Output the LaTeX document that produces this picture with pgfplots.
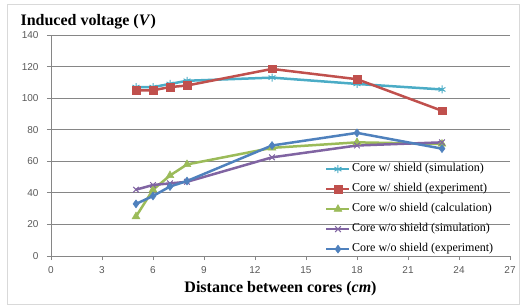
\documentclass[border=0pt]{standalone}
\usepackage{fontspec}
\setmainfont{Liberation Serif}
\newfontfamily\arial{Liberation Sans}
\usepackage{pgfplots}
\pgfplotsset{compat=1.18}
\definecolor{cCyan}{HTML}{4BACC6}
\definecolor{cRed}{HTML}{C0504D}
\definecolor{cGreen}{HTML}{9BBB59}
\definecolor{cPurple}{HTML}{8064A2}
\definecolor{cBlue}{HTML}{4F81BD}
\definecolor{cGrid}{HTML}{868686}
\definecolor{cTick}{HTML}{595959}
\definecolor{cBorder}{HTML}{D9D9D9}
\begin{document}
\begin{tikzpicture}[x=1pt,y=1pt]
\path[use as bounding box] (0,0) rectangle (520,306);
\draw[cBorder, line width=0.8pt] (7,2) rectangle (519,301.5);
\begin{axis}[
  at={(51pt,50pt)}, anchor=south west,
  width=459pt, height=221pt, scale only axis,
  xmin=0, xmax=27, ymin=0, ymax=140,
  xtick={0,3,...,27}, ytick={0,20,...,140},
  axis x line*=bottom, axis y line*=left,
  axis line style={cGrid, line width=0.8pt, -},
  ymajorgrids, grid style={cGrid, line width=0.8pt},
  tick align=outside, major tick length=4pt,
  tick style={cGrid, line width=0.8pt},
  ticklabel style={font=\arial\fontsize{10}{12}\selectfont, text=cTick},
  /pgf/number format/assume math mode=true,
  yticklabel style={xshift=-5pt},
  xticklabel style={yshift=-3pt},
  xlabel={\bfseries Distance between cores (\textit{cm})},
  xlabel style={font=\fontsize{16}{18}\selectfont, at={(axis description cs:0.5,-0.167)}, anchor=base},
  ylabel={\bfseries Induced voltage (\textit{V})},
  ylabel style={font=\fontsize{16}{18}\selectfont, rotate=-90, at={(axis description cs:-0.074,1.045)}, anchor=base west},
  legend cell align=left,
  legend style={at={(axis description cs:0.597,0.42)}, anchor=north west, draw=none, fill=none,
    font=\fontsize{12}{14}\selectfont, inner sep=0pt, row sep=8.5pt,
    nodes={inner xsep=1.5pt, inner ysep=0pt, text height=8.5pt, text depth=3pt}},
  legend image code/.code={\draw[mark repeat=2,mark phase=2,#1] plot coordinates {(0pt,0pt) (11.5pt,0pt) (23pt,0pt)};},
  every axis plot/.append style={line width=2.5pt},
]
\addplot[cCyan, mark=asterisk, mark size=4pt, mark options={line width=1pt}] coordinates {(5,107) (6,107) (7,109) (8,111) (13,113) (18,109) (23,105.5)};
\addlegendentry{Core w/ shield (simulation)}
\addplot[cRed, mark=square*, mark size=3.8pt, mark options={line width=0.5pt}] coordinates {(5,105) (6,105) (7,107) (8,108) (13,118.5) (18,112) (23,92)};
\addlegendentry{Core w/ shield (experiment)}
\addplot[cGreen, mark=triangle*, mark size=4.5pt, mark options={line width=0.5pt}] coordinates {(5,25) (6,42) (7,51) (8,58) (13,68.5) (18,72) (23,71)};
\addlegendentry{Core w/o shield (calculation)}
\addplot[cPurple, mark=x, mark size=4pt, mark options={line width=1pt}] coordinates {(5,42) (6,45) (7,46) (8,47) (13,62.5) (18,70) (23,72)};
\addlegendentry{Core w/o shield (simulation)}
\addplot[cBlue, mark=diamond*, mark size=4pt, mark options={line width=0.5pt}] coordinates {(5,33) (6,38) (7,44) (8,47.5) (13,70) (18,78) (23,68)};
\addlegendentry{Core w/o shield (experiment)}
\end{axis}
\end{tikzpicture}
\end{document}
